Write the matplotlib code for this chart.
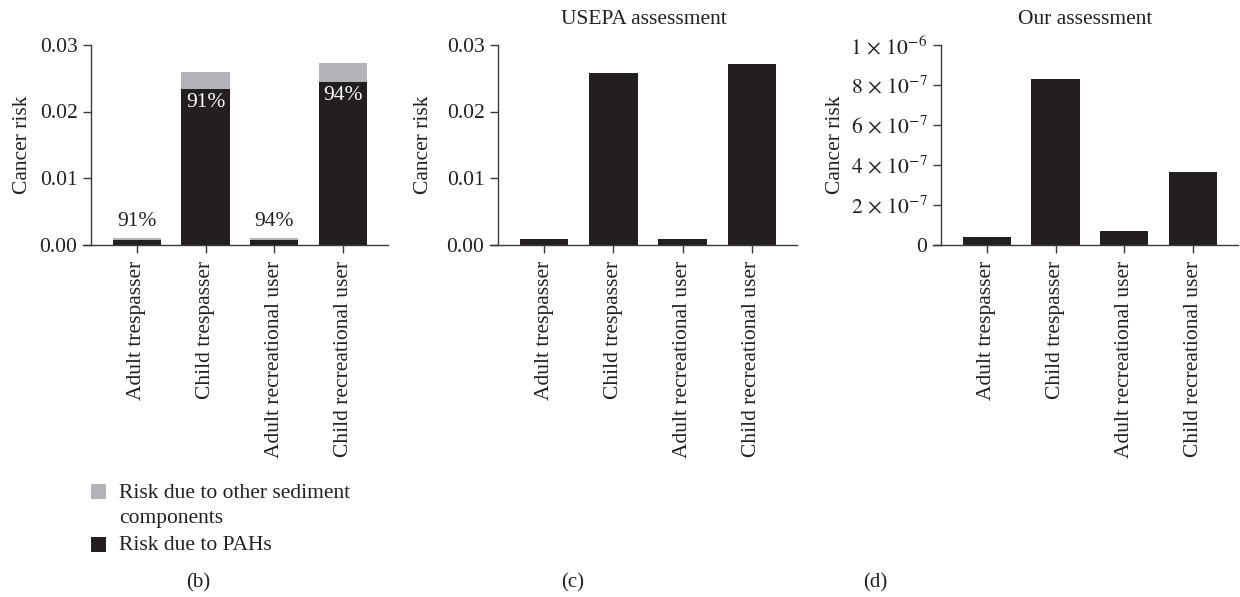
import matplotlib
matplotlib.use("Agg")
import matplotlib.pyplot as plt
from matplotlib.ticker import FixedLocator, FuncFormatter
from matplotlib.patches import Rectangle

plt.rcParams['font.family'] = ['Liberation Serif', 'DejaVu Serif']
plt.rcParams['mathtext.fontset'] = 'stix'

categories = ["Adult trespasser", "Child trespasser",
              "Adult recreational user", "Child recreational user"]
# panel (b): stacked risk
b_total = [0.00105, 0.0259, 0.00105, 0.0273]
b_pah = [0.00065, 0.0234, 0.00065, 0.0245]
pct_labels = ["91%", "91%", "94%", "94%"]
# panel (c): USEPA assessment
usepa = [0.0009, 0.0258, 0.0009, 0.0271]
# panel (d): our assessment
ours = [4.0e-8, 8.3e-7, 7.0e-8, 3.65e-7]

b_ticks = [0.0, 0.01, 0.02, 0.03]
d_ticks = [0, 2e-7, 4e-7, 6e-7, 8e-7, 1e-6]
d_ticklabels = ["0", r"$2\,\times\,10^{-7}$", r"$4\,\times\,10^{-7}$", r"$6\,\times\,10^{-7}$",
                r"$8\,\times\,10^{-7}$", r"$1\,\times\,10^{-6}$"]
legend_labels = [["Risk due to other sediment", "components"], ["Risk due to PAHs"]]

BLACK = '#231f20'
GRAY = '#b2b3b6'
AXC = '#3a3a3a'
FS = 15.5

W, H = 1240, 597
fig = plt.figure(figsize=(W / 100, H / 100), dpi=100)


def make_ax(x0, x1, y_top, y_bot):
    ax = fig.add_axes([x0 / W, 1 - y_bot / H, (x1 - x0) / W, (y_bot - y_top) / H])
    for s in ['top', 'right']:
        ax.spines[s].set_visible(False)
    for s in ['left', 'bottom']:
        ax.spines[s].set_color(AXC)
        ax.spines[s].set_linewidth(1.0)
    ax.spines['left'].set_position(('axes', 8 / (x1 - x0)))
    ax.tick_params(axis='both', colors=AXC, width=1.0, length=5.8, labelsize=FS,
                   labelcolor='#231f20')
    ax.tick_params(axis='x', pad=6)
    ax.tick_params(axis='y', pad=4)
    ax.set_xlim(-0.78, 3.65)
    ax.set_xticks(range(len(categories)))
    ax.set_xticklabels(categories, rotation=90)
    ax.set_ylabel("Cancer risk", fontsize=FS, color='#231f20')
    return ax


xs = list(range(len(categories)))

# (b)
axb = make_ax(83, 388, 45, 244.5)
other = [t - p for t, p in zip(b_total, b_pah)]
axb.bar(xs, b_pah, width=0.7, color=BLACK)
axb.bar(xs, other, bottom=b_pah, width=0.7, color=GRAY)
axb.set_ylim(0, 0.03)
axb.yaxis.set_major_locator(FixedLocator(b_ticks))
axb.yaxis.set_major_formatter(FuncFormatter(lambda v, p: f"{v:.2f}"))
for x, t, p, lab in zip(xs, b_total, b_pah, pct_labels):
    if p > 0.005:
        axb.annotate(lab, (x, p), xytext=(0, -3), textcoords='offset points',
                     ha='center', va='top', color='white', fontsize=FS)
    else:
        axb.annotate(lab, (x, t), xytext=(0, 5), textcoords='offset points',
                     ha='center', va='bottom', color=BLACK, fontsize=FS)
axb.yaxis.set_label_coords(-0.167, 0.5)

# (c)
axc = make_ax(490, 797, 45, 244.5)
axc.bar(xs, usepa, width=0.7, color=BLACK)
axc.set_ylim(0, 0.03)
axc.yaxis.set_major_locator(FixedLocator(b_ticks))
axc.yaxis.set_major_formatter(FuncFormatter(lambda v, p: f"{v:.2f}"))
axc.set_title("USEPA assessment", fontsize=FS, color='#231f20', pad=15)
axc.yaxis.set_label_coords(-0.187, 0.5)

# (d)
axd = make_ax(933, 1238, 45, 244.5)
axd.bar(xs, ours, width=0.7, color=BLACK)
axd.set_ylim(0, 1e-6)
axd.set_yticks(d_ticks)
axd.set_yticklabels(d_ticklabels)
axd.set_title("Our assessment", fontsize=FS, color='#231f20', pad=15)
axd.yaxis.set_label_coords(-0.29, 0.5)

# legend (drawn manually so the swatch aligns with the first text line)
sw_colors = [GRAY, BLACK]
sw_tops = [484, 537]
line_centers = [[493, 518], [545]]
for col, top, lines, centers in zip(sw_colors, sw_tops, legend_labels, line_centers):
    fig.add_artist(Rectangle((91 / W, 1 - (top + 15) / H), 15 / W, 15 / H,
                             transform=fig.transFigure, color=col, lw=0))
    for txt, yc in zip(lines, centers):
        fig.text(119 / W, 1 - yc / H, txt, ha='left', va='center', fontsize=FS,
                 color='#231f20')

for lab, xc in [("(b)", 198), ("(c)", 573), ("(d)", 875)]:
    fig.text(xc / W, 1 - 583 / H, lab, ha='center', va='center', fontsize=FS - 0.5,
             color='#231f20')

fig.savefig("out.png", dpi=100)
